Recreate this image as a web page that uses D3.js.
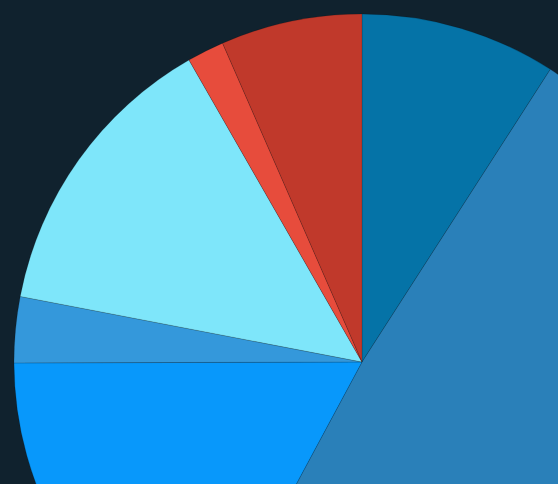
<!DOCTYPE html>
<html><head><meta charset="utf-8">
<script src="https://cdn.jsdelivr.net/npm/d3@7"></script>
<style>html,body{margin:0;padding:0;background:#10222e;overflow:hidden}</style>
</head><body>
<svg id="c" width="558" height="484"></svg>
<script>
const categories = ["A","B","C","D","E","F","G"];
const values = [9.1, 48.75, 17.1, 3.06, 13.7, 1.72, 6.56];
const colors = ["#0573a7","#2a80b9","#0898fb","#3498db","#7ee6fa","#e74c3c","#c0392b"];

const svg = d3.select("#c");
const cx = 362, cy = 362, r = 348;
const pie = d3.pie().sort(null).value(d => d.v);
const arc = d3.arc().innerRadius(0).outerRadius(r);
const data = categories.map((c,i)=>({c, v: values[i], col: colors[i]}));
svg.append("g").attr("transform",`translate(${cx},${cy})`)
  .selectAll("path").data(pie(data)).join("path")
  .attr("d", arc)
  .attr("fill", d => d.data.col)
  .attr("stroke", "rgba(0,0,0,0.15)")
  .attr("stroke-width", 1);
</script>
</body></html>
